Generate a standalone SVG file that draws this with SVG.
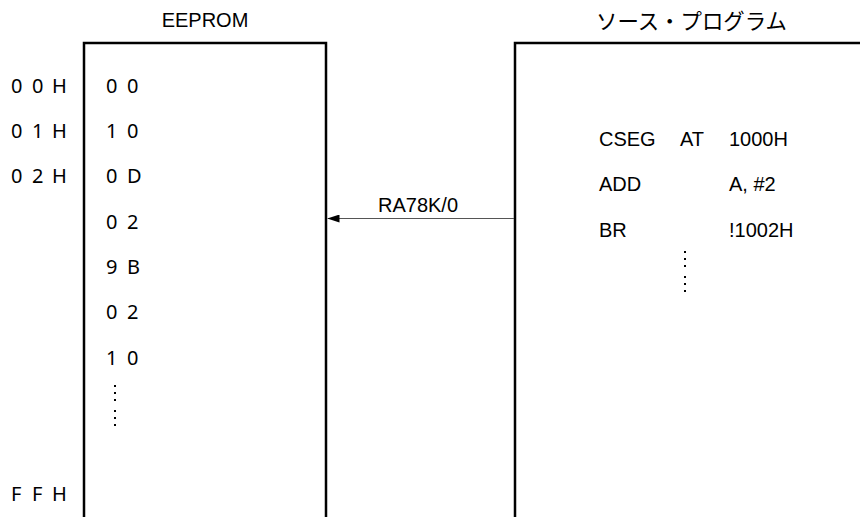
<svg xmlns="http://www.w3.org/2000/svg" width="860" height="517" viewBox="0 0 860 517">
<style>
.box{fill:none;stroke:#000;stroke-width:2.5}
.t{font-family:"Liberation Sans",Arial,sans-serif;font-size:20px;fill:#000}
.n{font-family:"Noto Sans","Open Sans",sans-serif;font-size:20px;fill:#000}
.j{font-family:"Noto Sans CJK JP","Noto Sans CJK SC",sans-serif;font-size:21.4px;fill:#000}
.conn{stroke:#555;stroke-width:1;fill:none}
.dot{fill:#000}
</style>
<defs>
<marker id="ah" markerWidth="12" markerHeight="8" refX="12" refY="4" orient="auto" markerUnits="userSpaceOnUse">
<path d="M0,0 L12,4 L0,8 z" fill="#000"/>
</marker>
</defs>
<rect width="860" height="517" fill="#fff"/>
<g id="eeprom">
<path class="box" d="M84,520 V43 H326 V520"/>
<text class="t" x="205" y="27" text-anchor="middle">EEPROM</text>
<text class="n" x="106 116 127" y="92.7">0 0</text>
<text class="n" x="106 116 127" y="138">1 0</text>
<text class="n" x="106 116 127" y="183.3">0 D</text>
<text class="n" x="106 116 127" y="228.7">0 2</text>
<text class="n" x="106 116 127" y="274">9 B</text>
<text class="n" x="106 116 127" y="319.3">0 2</text>
<text class="n" x="106 116 127" y="364.6">1 0</text>
<g class="dot">
<rect x="114" y="385" width="2" height="2"/><rect x="114" y="392" width="2" height="2"/><rect x="114" y="399" width="2" height="2"/>
<rect x="114" y="410" width="2" height="2"/><rect x="114" y="417" width="2" height="2"/><rect x="114" y="424" width="2" height="2"/>
</g>
</g>
<g id="addresses">
<text class="n" x="11 22 32 43 52" y="92.7">0 0 H</text>
<text class="n" x="11 22 32 43 52" y="138">0 1 H</text>
<text class="n" x="11 22 32 43 52" y="183.3">0 2 H</text>
<text class="n" x="11 22 32 43 52" y="500.7">F F H</text>
</g>
<g id="source">
<path class="box" d="M515,520 V43 H870"/>
<text class="j" x="596" y="29">ソース・プログラム</text>
<text class="t" x="599" y="146">CSEG</text>
<text class="t" x="680" y="146">AT</text>
<text class="t" x="729" y="146">1000H</text>
<text class="t" x="599" y="191.3">ADD</text>
<text class="t" x="729" y="191.3">A, #2</text>
<text class="t" x="599" y="236.6">BR</text>
<text class="t" x="729" y="236.6">!1002H</text>
<g class="dot">
<rect x="684" y="251" width="2" height="2"/><rect x="684" y="258" width="2" height="2"/><rect x="684" y="265" width="2" height="2"/>
<rect x="684" y="276" width="2" height="2"/><rect x="684" y="283" width="2" height="2"/><rect x="684" y="290" width="2" height="2"/>
</g>
</g>
<g id="connectors">
<line class="conn" x1="514" y1="218.5" x2="327.5" y2="218.5" marker-end="url(#ah)"/>
<text class="t" x="418" y="211.7" text-anchor="middle">RA78K/0</text>
</g>
</svg>
